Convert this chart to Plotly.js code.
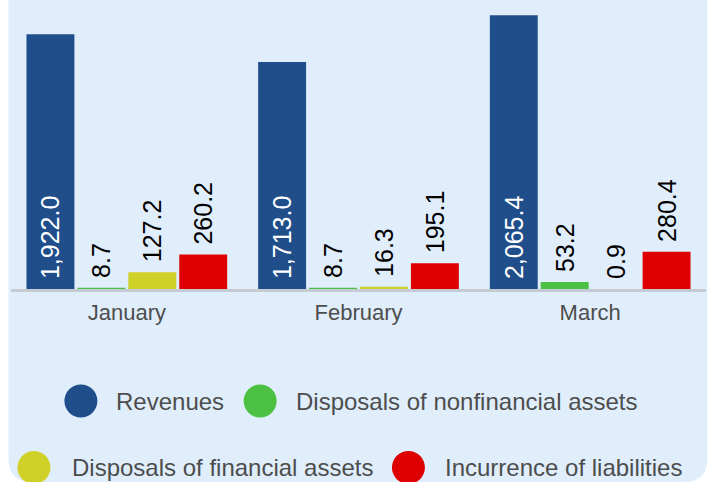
<!DOCTYPE html>
<html>
<head>
<meta charset="utf-8">
<script src="https://cdn.plot.ly/plotly-3.0.1.min.js"></script>
<style>
html,body{margin:0;padding:0;background:#ffffff;}
#chart{width:714px;height:482px;}
</style>
</head>
<body>
<div id="chart"></div>
<script>
// ---- data ----
const months = ["January", "February", "March"];
const seriesNames = ["Revenues", "Disposals of nonfinancial assets", "Disposals of financial assets", "Incurrence of liabilities"];
const revenues = [1922.0, 1713.0, 2065.4];
const disposalsNonfinancial = [8.7, 8.7, 53.2];
const disposalsFinancial = [127.2, 16.3, 0.9];
const incurrenceLiabilities = [260.2, 195.1, 280.4];
const seriesColors = ["#1f4e8a", "#4cc042", "#d0d128", "#de0000"];

const seriesValues = [revenues, disposalsNonfinancial, disposalsFinancial, incurrenceLiabilities];

// ---- geometry helpers (pixel -> paper) ----
const W = 714, H = 482;
const mL = 10.5, mR = 7.5, mT = 0, mB = 193;
const pw = W - mL - mR, ph = H - mT - mB;
const px = x => (x - mL) / pw;
const py = y => (H - mB - y) / ph;

const FONT = "Liberation Sans, Arial, sans-serif";

const traces = seriesValues.map((vals, i) => {
  const inside = i === 0;
  return {
    type: "bar",
    name: seriesNames[i],
    x: months,
    y: vals,
    marker: {color: seriesColors[i]},
    texttemplate: "\u00a0%{y:,.1f}",
    textposition: inside ? "inside" : "outside",
    insidetextanchor: "start",
    textangle: -90,
    constraintext: "none",
    cliponaxis: false,
    textfont: {family: FONT, size: 25, color: inside ? "#ffffff" : "#000000"},
    hoverinfo: "x+y+name",
    showlegend: false
  };
});

// rounded background panel
const bx0 = 8, bx1 = 708, by0 = -30, by1 = 482, r = 24;
const bgPath = [
  `M ${px(bx0)} ${py(by0)}`,
  `L ${px(bx1)} ${py(by0)}`,
  `L ${px(bx1)} ${py(by1 - r)}`,
  `Q ${px(bx1)} ${py(by1)} ${px(bx1 - r)} ${py(by1)}`,
  `L ${px(bx0 + r)} ${py(by1)}`,
  `Q ${px(bx0)} ${py(by1)} ${px(bx0)} ${py(by1 - r)}`,
  "Z"
].join(" ");

const shapes = [{
  type: "path", xref: "paper", yref: "paper", path: bgPath,
  fillcolor: "#e0eefc", line: {width: 0}, layer: "below"
}];

// custom legend (circles + labels)
const legendPos = [
  {cx: 80.5, cy: 401, tx: 114},
  {cx: 260, cy: 401, tx: 294},
  {cx: 33.5, cy: 467.5, tx: 70},
  {cx: 408.5, cy: 467.5, tx: 443}
];
const annotations = [];
legendPos.forEach((p, i) => {
  shapes.push({
    type: "circle", xref: "paper", yref: "paper",
    xsizemode: "pixel", ysizemode: "pixel",
    xanchor: px(p.cx), yanchor: py(p.cy),
    x0: -16.5, x1: 16.5, y0: -16.5, y1: 16.5,
    fillcolor: seriesColors[i], line: {width: 0}, layer: "above"
  });
  annotations.push({
    xref: "paper", yref: "paper", x: px(p.tx), y: py(p.cy),
    xanchor: "left", yanchor: "middle", showarrow: false,
    text: seriesNames[i],
    font: {family: FONT, size: 24, color: "#4d4d4d"}
  });
});

const layout = {
  width: W, height: H,
  margin: {l: mL, r: mR, t: mT, b: mB, pad: 0},
  paper_bgcolor: "#ffffff",
  plot_bgcolor: "rgba(0,0,0,0)",
  barmode: "group",
  bargap: 0.1207,
  bargroupgap: 0.0588,
  showlegend: false,
  xaxis: {
    type: "category",
    range: [-0.5, 2.5],
    showline: true, linecolor: "#c5cbd3", linewidth: 3,
    showgrid: false, zeroline: false, ticks: "",
    ticklabelstandoff: 2,
    tickfont: {family: FONT, size: 22, color: "#4d4d4d"},
    fixedrange: true
  },
  yaxis: {
    range: [0, 2181],
    visible: false, showgrid: false, zeroline: false,
    fixedrange: true
  },
  shapes: shapes,
  annotations: annotations
};

Plotly.newPlot("chart", traces, layout, {displayModeBar: false, staticPlot: true});
</script>
</body>
</html>
